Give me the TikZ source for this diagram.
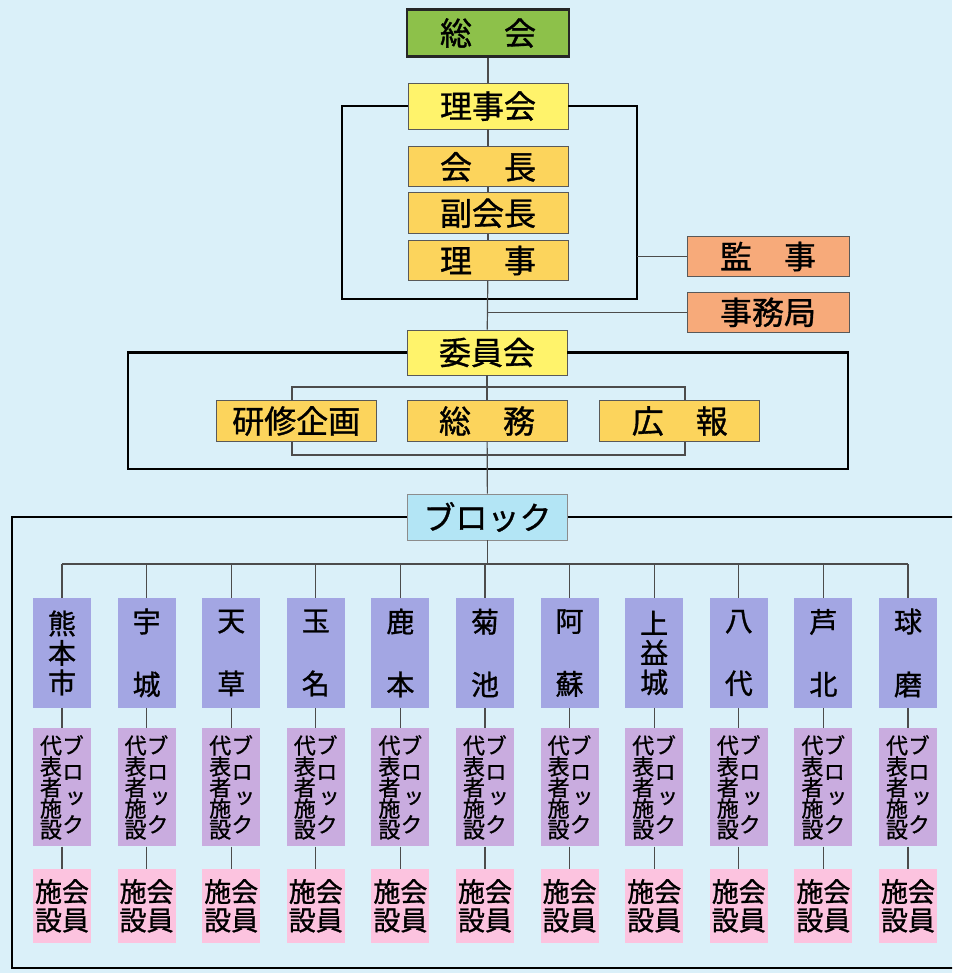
\documentclass[tikz,border=0pt]{standalone}
\usepackage{fontspec}
\setmainfont{Noto Sans CJK JP}[RawFeature={embolden=1}]
\newfontfamily\tatefont[RawFeature={+vert;embolden=1}]{Noto Sans CJK JP}
\usetikzlibrary{positioning}

\definecolor{bgblue}{RGB}{218,240,249}
\definecolor{sokaigreen}{RGB}{141,193,74}
\definecolor{riyellow}{RGB}{255,243,107}
\definecolor{yakuorange}{RGB}{252,212,92}
\definecolor{kanjisalmon}{RGB}{247,170,122}
\definecolor{blockblue}{RGB}{179,229,245}
\definecolor{areaviolet}{RGB}{163,166,227}
\definecolor{repliliac}{RGB}{201,172,223}
\definecolor{memberpink}{RGB}{252,195,223}

% one column of stacked characters, pitch #1
\newcommand{\tatestack}[2]{\vtop{\baselineskip=#1\lineskiplimit=-\maxdimen\lineskip=0pt
  \halign{\hfil##\hfil\cr#2\crcr}}}
\newcommand{\reptext}{%
  \fontsize{22}{22}\selectfont
  \tatestack{21pt}{代\cr 表\cr 者\cr 施\cr 設}%
  {\tatefont\tatestack{26.3pt}{ブ\cr ロ\cr ッ\cr ク}}}

\begin{document}
\begin{tikzpicture}[x=1pt, y=-1pt,
  every node/.style={inner sep=0pt, align=center},
  topbox/.style={draw=black!65, line width=.8pt, minimum width=160pt,
    minimum height=41pt, font=\fontsize{32}{34}\selectfont},
  outerframe/.style={draw=black, line width=2.6pt},
  conn/.style={draw=black!70, line width=1.2pt},
  areabox/.style={fill=areaviolet, minimum width=58pt, minimum height=110pt,
    font=\fontsize{28}{29.5}\selectfont},
  repbox/.style={fill=repliliac, minimum width=58pt, minimum height=118pt},
  memberbox/.style={fill=memberpink, minimum width=58pt, minimum height=74pt,
    font=\fontsize{27}{28.5}\selectfont}]
  \fill [bgblue] (0,0) rectangle (952,973);
  \clip (0,0) rectangle (952,973);

  % top
  \node [topbox, fill=sokaigreen, draw=black!85, line width=2.4pt,
    minimum width=162pt, minimum height=47pt] (sokai) at (488,33) {総　会};
  \node [topbox, fill=riyellow, minimum height=46pt, below=25pt of sokai] (rijikai) {理事会};
  \node [topbox, fill=yakuorange, minimum height=40pt, below=17pt of rijikai] (kaicho) {会　長};
  \node [topbox, fill=yakuorange, below=5pt of kaicho] (fukukaicho) {副会長};
  \node [topbox, fill=yakuorange, minimum height=40pt, below=6pt of fukukaicho] (riji) {理　事};
  \node [topbox, fill=kanjisalmon, minimum width=162pt, minimum height=40pt] (kanji) at (768,256.5) {監　事};
  \node [topbox, fill=kanjisalmon, minimum width=162pt, minimum height=40pt,
    below=15pt of kanji] (jimukyoku) {事務局};

  % committees
  \node [topbox, fill=riyellow, minimum height=45pt] (iinkai) at (487,352.5) {委員会};
  \node [topbox, fill=yakuorange] (somu) at (487,421) {総　務};
  \node [topbox, fill=yakuorange, left=30pt of somu] (kenshu) {研修企画};
  \node [topbox, fill=yakuorange, right=32pt of somu] (koho) {広　報};

  \node [topbox, fill=blockblue, draw=black!45, minimum height=46pt] (block) at (487.5,517) {ブロック};

  \coordinate (f1sw) at (342,299);
  \coordinate (f1ne) at (637,104);
  \coordinate (f2sw) at (128,469);
  \coordinate (f2ne) at (848,353);
  \coordinate (brknw) at (292,387);
  \coordinate (brkse) at (685,455);
  \coordinate (f3sw) at (12,968);
  \coordinate (f3se) at (960,968);
  \coordinate (busy) at (0,564);

  \draw [outerframe] (rijikai.west) -| (f1sw) -| (rijikai.east -| f1ne) -- (rijikai.east);
  \draw [outerframe] (iinkai.west) -| (f2sw) -| (iinkai.east -| f2ne) -- (iinkai.east);
  \draw [outerframe] (block.west) -| (f3sw) -- (f3se);
  \draw [outerframe] (block.east) -- (block.east -| f3se);

  \draw [conn] (sokai) -- (rijikai);
  \draw [conn] (rijikai) -- (kaicho);
  \draw [conn] (kaicho) -- (fukukaicho);
  \draw [conn] (fukukaicho) -- (riji);
  \draw [conn] (riji) -- (iinkai);
  \draw [conn] (iinkai) -- (somu);
  \draw [conn] (somu) -- (block);
  \draw [conn] (kanji.west) -- (kanji.west -| f1ne);
  \draw [conn] (jimukyoku.west) -- (jimukyoku.west -| riji.south);
  \draw [conn] (kenshu.north -| brknw) |- (brkse |- brknw) -- (koho.north -| brkse);
  \draw [conn] (kenshu.south -| brknw) |- (brkse) -- (koho.south -| brkse);

  % blocks
  \foreach \i/\area in {1/{熊\\本\\市}, 2/{宇\\\strut\\城}, 3/{天\\\strut\\草},
      4/{玉\\\strut\\名}, 5/{鹿\\\strut\\本}, 6/{菊\\\strut\\池},
      7/{阿\\\strut\\蘇}, 8/{上\\益\\城}, 9/{八\\\strut\\代},
      10/{芦\\\strut\\北}, 11/{球\\\strut\\磨}} {
    \node [areabox] (area\i) at ({62+84.6*(\i-1)},653) {\area};
    \node [repbox, below=20pt of area\i] (rep\i) {\reptext};
    \node [memberbox, below=22pt of rep\i] (member\i) {施会\\設員};
    \draw [conn] (busy -| area\i.north) -- (area\i.north);
    \draw [conn] (area\i) -- (rep\i);
    \draw [conn] (rep\i) -- (member\i);
  }
  \draw [conn] (block) -- (block |- busy);
  \draw [conn] (busy -| area1.north) -- (busy -| area11.north);
\end{tikzpicture}
\end{document}
